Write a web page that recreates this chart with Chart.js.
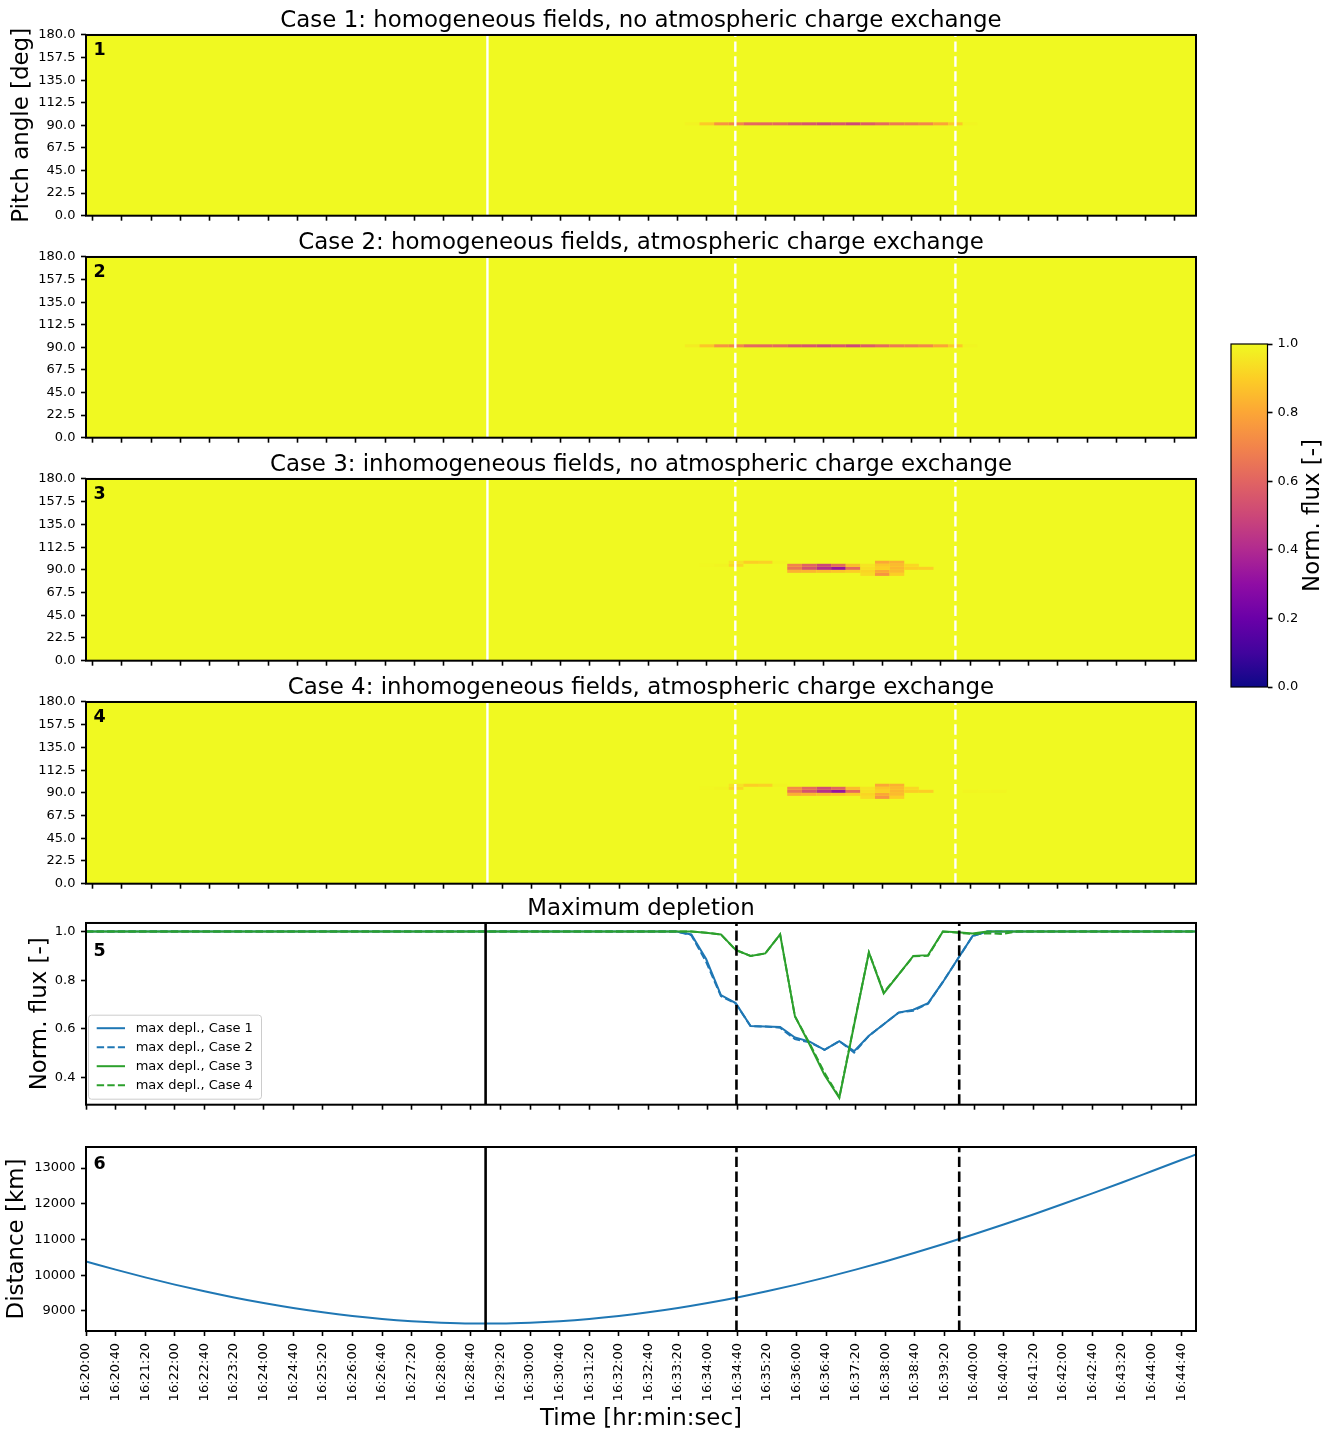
<!DOCTYPE html>
<html>
<head>
<meta charset="utf-8">
<title>Pitch angle depletion</title>
<script src="https://cdn.jsdelivr.net/npm/chart.js@4.4.1/dist/chart.umd.min.js"></script>
<style>
  html, body { margin: 0; padding: 0; background: #ffffff; }
  body { position: relative; width: 1335px; height: 1433px; overflow: hidden; }
  canvas { position: absolute; }
</style>
</head>
<body>
<script>
// ================= DATA =================
const xTickValues = [0,40,80,120,160,200,240,280,320,360,400,440,480,520,560,600,640,680,720,760,800,840,880,920,960,1000,1040,1080,1120,1160,1200,1240,1280,1320,1360,1400,1440,1480];
const xTickLabels = ['16:20:00','16:20:40','16:21:20','16:22:00','16:22:40','16:23:20','16:24:00','16:24:40','16:25:20','16:26:00','16:26:40','16:27:20','16:28:00','16:28:40','16:29:20','16:30:00','16:30:40','16:31:20','16:32:00','16:32:40','16:33:20','16:34:00','16:34:40','16:35:20','16:36:00','16:36:40','16:37:20','16:38:00','16:38:40','16:39:20','16:40:00','16:40:40','16:41:20','16:42:00','16:42:40','16:43:20','16:44:00','16:44:40'];
const panelTitles = [
  'Case 1: homogeneous fields, no atmospheric charge exchange',
  'Case 2: homogeneous fields, atmospheric charge exchange',
  'Case 3: inhomogeneous fields, no atmospheric charge exchange',
  'Case 4: inhomogeneous fields, atmospheric charge exchange',
  'Maximum depletion'
];
const panelLabels = ['1','2','3','4','5','6'];
const pitchTicks = [0,22.5,45,67.5,90,112.5,135,157.5,180];
const pitchTickLabels = ['0.0','22.5','45.0','67.5','90.0','112.5','135.0','157.5','180.0'];
const fluxTicks = [0.4,0.6,0.8,1.0];
const fluxTickLabels = ['0.4','0.6','0.8','1.0'];
const distTicks = [9000,10000,11000,12000,13000];
const distTickLabels = ['9000','10000','11000','12000','13000'];
const cbTicks = [0,0.2,0.4,0.6,0.8,1.0];
const cbTickLabels = ['0.0','0.2','0.4','0.6','0.8','1.0'];
const seriesLabels = ['max depl., Case 1','max depl., Case 2','max depl., Case 3','max depl., Case 4'];

// event markers (seconds after 16:20:00)
const solidMarkerTimes = [540];
const dashedMarkerTimes = [879, 1180];

// heat map: time bin centres (s after 16:20:00) and pitch-angle bin centres (deg)
const heatTimes = [820,840,860,880,900,920,940,960,980,1000,1020,1040,1060,1080,1100,1120,1140,1160,1180,1200,1220,1240,1260];
const pitchBinCenters = [85.5,88.5,91.5,94.5,97.5];
const heatTimeBin = 20;
const pitchBin = 3;

// normalised flux per pitch bin (rows low -> high pitch angle), per time bin
const case1Heat = [
  [1,1,1,1,1,1,1,1,1,1,1,1,1,1,1,1,1,1,1,1,1,1,1],
  [1,1,1,1,1,1,1,1,1,1,1,1,1,1,1,1,1,1,1,1,1,1,1],
  [0.985,0.89,0.745,0.705,0.615,0.612,0.61,0.565,0.548,0.514,0.55,0.509,0.572,0.619,0.667,0.679,0.706,0.793,0.887,0.99,1,1,1],
  [1,1,1,1,1,1,1,1,1,1,1,1,1,1,1,1,1,1,1,1,1,1,1],
  [1,1,1,1,1,1,1,1,1,1,1,1,1,1,1,1,1,1,1,1,1,1,1]
];
const case2Heat = [
  [1,1,1,1,1,1,1,1,1,1,1,1,1,1,1,1,1,1,1,1,1,1,1],
  [1,1,1,1,1,1,1,1,1,1,1,1,1,1,1,1,1,1,1,1,1,1,1],
  [0.97,0.88,0.74,0.705,0.615,0.612,0.61,0.56,0.548,0.514,0.55,0.505,0.572,0.619,0.667,0.676,0.706,0.793,0.887,0.99,1,1,1],
  [1,1,1,1,1,1,1,1,1,1,1,1,1,1,1,1,1,1,1,1,1,1,1],
  [1,1,1,1,1,1,1,1,1,1,1,1,1,1,1,1,1,1,1,1,1,1,1]
];
const case3Heat = [
  [1,1,1,1,1,1,1,1,1,1,1,1,0.93,0.746,0.9,1,1,1,1,1,1,1,1],
  [1,1,1,1,1,1,1,0.83,0.84,0.86,0.88,0.9,0.914,0.8,0.85,1,1,1,1,1,1,1,1],
  [1,1,1,1,1,1,1,0.652,0.535,0.411,0.317,0.616,0.94,0.9,0.84,0.9,0.903,1,1,1,1,1,1],
  [1,0.995,0.988,0.924,1,1,1,0.7,0.6,0.5,0.62,0.85,0.95,0.88,0.85,0.92,1,1,1,1,1,1,1],
  [1,1,1,0.95,0.9,0.91,0.988,1,1,1,1,1,1,0.8,0.823,1,1,1,1,1,1,1,1]
];
const case4Heat = [
  [1,1,1,1,1,1,1,1,1,1,1,1,0.93,0.75,0.9,1,1,1,1,1,1,1,1],
  [1,1,1,1,1,1,1,0.82,0.84,0.86,0.88,0.9,0.914,0.8,0.85,1,1,1,1,1,1,1,1],
  [1,1,1,1,1,1,1,0.652,0.54,0.42,0.32,0.62,0.94,0.9,0.84,0.898,0.9,1,1,0.99,0.993,0.99,1],
  [1,0.995,0.988,0.924,1,1,1,0.72,0.62,0.52,0.6,0.85,0.95,0.88,0.85,0.92,1,1,1,1,1,1,1],
  [1,1,1,0.95,0.9,0.91,0.988,1,1,1,1,1,1,0.8,0.823,1,1,1,1,1,1,1,1]
];

// maximum depletion time series
const depTimes = [0,778,798,818,838,858,878,898,918,938,958,978,998,1018,1038,1058,1078,1098,1118,1138,1158,1178,1198,1218,1238,1258,1500];
const case1Dep = [1,1,1,0.988,0.887,0.739,0.706,0.612,0.61,0.608,0.565,0.548,0.514,0.55,0.509,0.572,0.619,0.667,0.679,0.706,0.793,0.887,0.981,1,1,1,1];
const case2Dep = [1,1,1,0.985,0.875,0.735,0.704,0.612,0.61,0.605,0.558,0.545,0.514,0.55,0.503,0.572,0.619,0.667,0.675,0.704,0.793,0.887,0.981,1,1,1,1];
const case3Dep = [1,1,1,1,0.995,0.988,0.924,0.9,0.91,0.988,0.652,0.535,0.411,0.317,0.616,0.914,0.746,0.823,0.9,0.903,1,0.997,0.992,1,1,1,1];
const case4Dep = [1,1,1,1,0.995,0.988,0.924,0.9,0.91,0.988,0.652,0.54,0.42,0.32,0.62,0.914,0.75,0.823,0.898,0.9,1,0.995,0.99,0.993,0.99,1,1];

// distance
const distTimes = [0,40,80,120,160,200,240,280,320,360,400,440,480,520,560,600,640,680,720,760,800,840,880,920,960,1000,1040,1080,1120,1160,1200,1240,1280,1320,1360,1400,1440,1480,1500];
const distValues = [10387,10158,9941,9738,9550,9377,9221,9082,8962,8860,8777,8715,8673,8653,8653,8673,8715,8777,8860,8962,9082,9221,9377,9550,9738,9941,10158,10387,10629,10882,11146,11419,11702,11993,12292,12598,12911,13225,13380];

// ================= STYLE / HELPERS =================
const FONT = "'DejaVu Sans', 'Liberation Sans', sans-serif";
Chart.defaults.font.family = FONT;
Chart.defaults.color = '#000';
const TICK_SIZE = 13;
const LABEL_SIZE = 22.9;

const plasmaStops = ['#0d0887','#41049d','#6a00a8','#8f0da4','#b12a90','#cc4778','#e16462','#f2844b','#fca636','#fcce25','#f0f921'];
const plasmaRGB = plasmaStops.map(h => [parseInt(h.slice(1,3),16), parseInt(h.slice(3,5),16), parseInt(h.slice(5,7),16)]);
function plasma(v) {
  v = Math.max(0, Math.min(1, v));
  const f = v * (plasmaRGB.length - 1);
  const i = Math.min(Math.floor(f), plasmaRGB.length - 2);
  const t = f - i, a = plasmaRGB[i], b = plasmaRGB[i + 1];
  return 'rgb(' + [0,1,2].map(k => Math.round(a[k] + (b[k] - a[k]) * t)).join(',') + ')';
}

const BLUE = '#1f77b4', GREEN = '#2ca02c';
const HEAT_XMIN = -9, HEAT_XMAX = 1509;
const LINE_XMIN = 0, LINE_XMAX = 1500;
const CANVAS_W = 1290, PAD_RIGHT = 94, AXIS_W = 86;

function makeCanvas(left, top, w, h) {
  const c = document.createElement('canvas');
  c.width = w; c.height = h;
  c.style.left = left + 'px'; c.style.top = top + 'px';
  c.style.width = w + 'px'; c.style.height = h + 'px';
  document.body.appendChild(c);
  return c;
}

const gridOpts = { display: true, drawOnChartArea: false, drawTicks: true, tickLength: 5, tickWidth: 1.6, tickColor: '#000' };

function xScale(min, max, showLabels, titleText) {
  return {
    type: 'linear', position: 'bottom', min, max,
    afterBuildTicks: s => { s.ticks = xTickValues.map(v => ({ value: v })); },
    afterFit: s => { s.height = showLabels ? 102 : 10; },
    ticks: { display: showLabels, autoSkip: false, minRotation: 90, maxRotation: 90, padding: 7,
             color: '#000', font: { family: FONT, size: TICK_SIZE }, callback: (v, i) => xTickLabels[i] },
    grid: gridOpts,
    border: { display: false },
    title: titleText ? { display: true, text: titleText, color: '#000',
                         font: { family: FONT, size: LABEL_SIZE, weight: 'normal' }, padding: { top: 0, bottom: 0.5 } }
                     : { display: false }
  };
}
function yScale(min, max, vals, labels, titleText, titlePad) {
  return {
    type: 'linear', position: 'left', min, max,
    afterBuildTicks: s => { s.ticks = vals.map(v => ({ value: v })); },
    afterFit: s => { s.width = AXIS_W; },
    ticks: { padding: 5.5, color: '#000', font: { family: FONT, size: TICK_SIZE }, callback: (v, i) => labels[i] },
    grid: gridOpts,
    border: { display: false },
    title: titleText ? { display: true, text: titleText, color: '#000',
                         font: { family: FONT, size: LABEL_SIZE, weight: 'normal' }, padding: { top: titlePad, bottom: 0 } }
                     : { display: false }
  };
}
function titleOpts(text) {
  if (!text) return { display: false };
  return { display: true, text, fullSize: false, color: '#000',
           font: { family: FONT, size: LABEL_SIZE, weight: 'normal' }, padding: { top: 7, bottom: 0.5 } };
}
function baseOptions(padding, title, x, y) {
  return {
    responsive: false, animation: false, events: [], devicePixelRatio: 1,
    layout: { padding },
    plugins: { legend: { display: false }, tooltip: { enabled: false }, title: titleOpts(title) },
    scales: { x, y }
  };
}
function markerDatasets(yMin, yMax, color, width) {
  const out = [];
  solidMarkerTimes.forEach(t => out.push({ data: [{ x: t, y: yMin }, { x: t, y: yMax }], showLine: true,
    borderColor: color, borderWidth: width, pointRadius: 0, order: 0 }));
  dashedMarkerTimes.forEach(t => out.push({ data: [{ x: t, y: yMin }, { x: t, y: yMax }], showLine: true,
    borderColor: color, borderWidth: width, borderDash: [10.4, 4.5], pointRadius: 0, order: 0 }));
  return out;
}

function makeHeatPlugin(rows) {
  return {
    id: 'heatmap',
    beforeDatasetsDraw(chart) {
      const { ctx, chartArea: a, scales: { x, y } } = chart;
      ctx.save();
      ctx.beginPath(); ctx.rect(a.left, a.top, a.right - a.left, a.bottom - a.top); ctx.clip();
      ctx.fillStyle = plasma(1);
      ctx.fillRect(a.left, a.top, a.right - a.left, a.bottom - a.top);
      rows.forEach((row, ri) => {
        const p0 = pitchBinCenters[ri] - pitchBin / 2, p1 = pitchBinCenters[ri] + pitchBin / 2;
        row.forEach((v, ti) => {
          if (v >= 1) return;
          const xa = x.getPixelForValue(heatTimes[ti] - heatTimeBin / 2);
          const xb = x.getPixelForValue(heatTimes[ti] + heatTimeBin / 2);
          const ya = y.getPixelForValue(p1), yb = y.getPixelForValue(p0);
          ctx.fillStyle = plasma(v);
          ctx.fillRect(xa, ya, xb - xa, yb - ya);
        });
      });
      ctx.restore();
    }
  };
}

function drawLegend(chart) {
  const { ctx, chartArea: a } = chart;
  const items = chart.data.datasets.filter(d => d.label);
  const bw = 173, bh = 84, bx = a.left + 2.5, by = a.bottom - 5.5 - bh, r = 3;
  ctx.save();
  ctx.beginPath();
  ctx.moveTo(bx + r, by); ctx.lineTo(bx + bw - r, by); ctx.arcTo(bx + bw, by, bx + bw, by + r, r);
  ctx.lineTo(bx + bw, by + bh - r); ctx.arcTo(bx + bw, by + bh, bx + bw - r, by + bh, r);
  ctx.lineTo(bx + r, by + bh); ctx.arcTo(bx, by + bh, bx, by + bh - r, r);
  ctx.lineTo(bx, by + r); ctx.arcTo(bx, by, bx + r, by, r); ctx.closePath();
  ctx.fillStyle = 'rgba(255,255,255,0.8)'; ctx.fill();
  ctx.strokeStyle = '#cccccc'; ctx.lineWidth = 1; ctx.stroke();
  items.forEach((d, i) => {
    const yy = by + 13 + i * 19;
    ctx.strokeStyle = d.borderColor; ctx.lineWidth = d.borderWidth;
    ctx.setLineDash(d.borderDash || []);
    ctx.beginPath(); ctx.moveTo(bx + 8.2, yy); ctx.lineTo(bx + 36.5, yy); ctx.stroke();
    ctx.setLineDash([]);
    ctx.fillStyle = '#000'; ctx.font = '13px ' + FONT; ctx.textAlign = 'left'; ctx.textBaseline = 'middle';
    ctx.fillText(d.label, bx + 47.2, yy);
  });
  ctx.restore();
}

function makeDecorPlugin(label, withLegend, labelDrop) {
  return {
    id: 'decor',
    afterDatasetsDraw(chart) {
      const { ctx, chartArea: a } = chart;
      if (withLegend) drawLegend(chart);
      ctx.save();
      ctx.setLineDash([]);
      ctx.strokeStyle = '#000'; ctx.lineWidth = 2;
      ctx.strokeRect(a.left, a.top, a.right - a.left, a.bottom - a.top);
      ctx.fillStyle = '#000'; ctx.font = 'bold 17.5px ' + FONT;
      ctx.textAlign = 'left'; ctx.textBaseline = 'alphabetic';
      ctx.fillText(label, a.left + 7.5, a.top + labelDrop);
      ctx.restore();
    }
  };
}

// ================= HEAT MAP PANELS =================
const heatPanels = [
  { top: 35, h: 184, rows: case1Heat },
  { top: 257, h: 184, rows: case2Heat },
  { top: 479, h: 185, rows: case3Heat },
  { top: 702, h: 185, rows: case4Heat }
];
heatPanels.forEach((p, idx) => {
  const c = makeCanvas(0, p.top - 35, CANVAS_W, 35 + p.h + 10);
  new Chart(c, {
    type: 'scatter',
    data: { datasets: markerDatasets(0, 180, '#ffffff', 2.4) },
    options: baseOptions({ top: 0, left: 0, right: PAD_RIGHT, bottom: 0 }, panelTitles[idx],
      xScale(HEAT_XMIN, HEAT_XMAX, false),
      yScale(0, 180, pitchTicks, pitchTickLabels, idx === 0 ? 'Pitch angle [deg]' : null, 8.5)),
    plugins: [makeHeatPlugin(p.rows), makeDecorPlugin(panelLabels[idx], false, 20.5)]
  });
});

// ================= MAXIMUM DEPLETION PANEL =================
(function () {
  const top = 923, h = 185;
  const c = makeCanvas(0, top - 35, CANVAS_W, 35 + h + 10);
  const toPts = vals => depTimes.map((t, i) => ({ x: t, y: vals[i] }));
  const datasets = [
    { label: seriesLabels[0], data: toPts(case1Dep), showLine: true, borderColor: BLUE, borderWidth: 2, pointRadius: 0, order: 4 },
    { label: seriesLabels[1], data: toPts(case2Dep), showLine: true, borderColor: BLUE, borderWidth: 2, borderDash: [7.4, 3.2], pointRadius: 0, order: 3 },
    { label: seriesLabels[2], data: toPts(case3Dep), showLine: true, borderColor: GREEN, borderWidth: 2, pointRadius: 0, order: 2 },
    { label: seriesLabels[3], data: toPts(case4Dep), showLine: true, borderColor: GREEN, borderWidth: 2, borderDash: [7.4, 3.2], pointRadius: 0, order: 1 }
  ].concat(markerDatasets(0.289, 1.035, '#000000', 2.6));
  new Chart(c, {
    type: 'scatter',
    data: { datasets },
    options: baseOptions({ top: 0, left: 0, right: PAD_RIGHT, bottom: 0 }, panelTitles[4],
      xScale(LINE_XMIN, LINE_XMAX, false),
      yScale(0.289, 1.035, fluxTicks, fluxTickLabels, 'Norm. flux [-]', 26.5)),
    plugins: [makeDecorPlugin(panelLabels[4], true, 33.5)]
  });
})();

// ================= DISTANCE PANEL =================
(function () {
  const top = 1147, h = 184;
  const c = makeCanvas(0, top - 20, CANVAS_W, 20 + h + 102);
  const datasets = [
    { data: distTimes.map((t, i) => ({ x: t, y: distValues[i] })), showLine: true, borderColor: BLUE, borderWidth: 2,
      pointRadius: 0, cubicInterpolationMode: 'monotone', order: 1 }
  ].concat(markerDatasets(8440, 13590, '#000000', 2.6));
  new Chart(c, {
    type: 'scatter',
    data: { datasets },
    options: baseOptions({ top: 20, left: 0, right: PAD_RIGHT, bottom: 0 }, null,
      xScale(LINE_XMIN, LINE_XMAX, true, 'Time [hr:min:sec]'),
      yScale(8440, 13590, distTicks, distTickLabels, 'Distance [km]', 3.5)),
    plugins: [makeDecorPlugin(panelLabels[5], false, 21.5)]
  });
})();

// ================= COLOUR BAR =================
(function () {
  const c = makeCanvas(1200, 330, 135, 370);
  const cbPlugin = {
    id: 'colorbar',
    beforeDatasetsDraw(chart) {
      const { ctx, chartArea: a, scales: { y } } = chart;
      ctx.save();
      const g = ctx.createLinearGradient(0, y.getPixelForValue(0), 0, y.getPixelForValue(1));
      plasmaStops.forEach((col, i) => g.addColorStop(i / (plasmaStops.length - 1), col));
      ctx.fillStyle = g;
      ctx.fillRect(a.left, a.top, a.right - a.left, a.bottom - a.top);
      ctx.strokeStyle = '#000'; ctx.lineWidth = 1.2;
      ctx.strokeRect(a.left, a.top, a.right - a.left, a.bottom - a.top);
      ctx.translate(a.right + 45.5, (a.top + a.bottom) / 2);
      ctx.rotate(-Math.PI / 2);
      ctx.fillStyle = '#000'; ctx.font = LABEL_SIZE + 'px ' + FONT;
      ctx.textAlign = 'center'; ctx.textBaseline = 'middle';
      ctx.fillText('Norm. flux [-]', 0, 0);
      ctx.restore();
    }
  };
  new Chart(c, {
    type: 'scatter',
    data: { datasets: [{ data: [] }] },
    options: {
      responsive: false, animation: false, events: [], devicePixelRatio: 1,
      layout: { padding: { top: 14, left: 31, right: 0, bottom: 13 } },
      plugins: { legend: { display: false }, tooltip: { enabled: false } },
      scales: {
        x: { display: false, min: 0, max: 1 },
        y: {
          type: 'linear', position: 'right', min: 0, max: 1,
          afterBuildTicks: s => { s.ticks = cbTicks.map(v => ({ value: v })); },
          afterFit: s => { s.width = 67.5; },
          ticks: { padding: 5, color: '#000', font: { family: FONT, size: TICK_SIZE }, callback: (v, i) => cbTickLabels[i] },
          grid: gridOpts,
          border: { display: false }
        }
      }
    },
    plugins: [cbPlugin]
  });
})();
</script>
</body>
</html>
